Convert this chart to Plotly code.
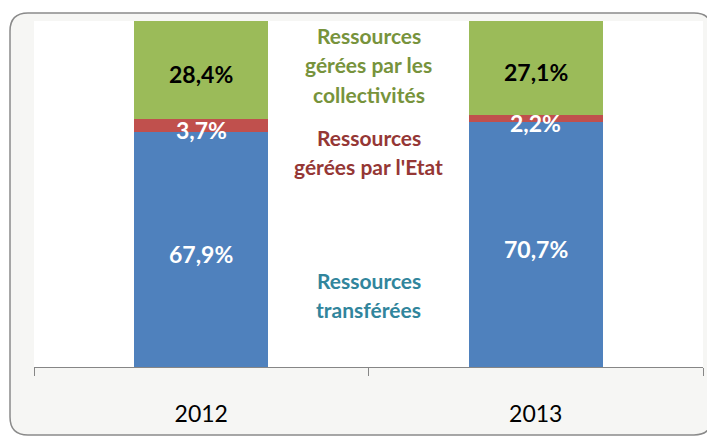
import plotly.graph_objects as go

years = ["2012", "2013"]
series_names = ["Ressources transférées", "Ressources gérées par l'Etat", "Ressources gérées par les collectivités"]
transferees = [67.9, 70.7]
etat = [3.7, 2.2]
collectivites = [28.4, 27.1]

bar_colors = ["#4F81BD", "#C0504D", "#9BBB59"]
label_colors = ["#FFFFFF", "#FFFFFF", "#000000"]
name_colors = ["#31859C", "#953735", "#77933C"]
name_lines = [["Ressources", "transférées"],
              ["Ressources", "gérées par l'Etat"],
              ["Ressources", "gérées par les", "collectivités"]]

W, H = 715, 437
OFF = 8  # page body margin
ML, MT = 34 - OFF, 21 - OFF
PW, PH = 669, 346
MR, MB = W - ML - PW, H - MT - PH

def px(x):
    return (x - OFF - ML) / PW

def py(y):
    return (H - MB - (y - OFF)) / PH

FONT = "Lato"
fig = go.Figure()
all_series = [transferees, etat, collectivites]
for name, vals, col in zip(series_names, all_series, bar_colors):
    fig.add_trace(go.Bar(x=years, y=vals, name=name, marker=dict(color=col, line=dict(width=0)),
                         width=0.4, hoverinfo="skip"))

annotations = []
for i, yr in enumerate(years):
    base = 0
    for vals, lc in zip(all_series, label_colors):
        v = vals[i]
        annotations.append(dict(x=i, y=base + v / 2, xref="x", yref="y",
                                text=f"{v:.1f}%".replace(".", ","), showarrow=False,
                                yshift=-4,
                                font=dict(family=FONT, size=23, color=lc, weight="bold")))
        base += v

name_top = [280, 137, 35]
for lines, c, y0 in zip(name_lines, name_colors, name_top):
    for k, line in enumerate(lines):
        annotations.append(dict(x=0.5, y=py(y0 + 29.5 * k), xref="paper", yref="paper", text=line,
                                showarrow=False, xanchor="center", yanchor="middle",
                                font=dict(family=FONT, size=21, color=c, weight="bold")))

# rounded frame path
l, t, r, b, rad = 10, 13, 712, 435, 18
def P(x, y):
    return f"{px(x):.5f},{py(y):.5f}"
path = (f"M {P(l+rad, t)} L {P(r-rad, t)} Q {P(r, t)} {P(r, t+rad)} "
        f"L {P(r, b-rad)} Q {P(r, b)} {P(r-rad, b)} L {P(l+rad, b)} "
        f"Q {P(l, b)} {P(l, b-rad)} L {P(l, t+rad)} Q {P(l, t)} {P(l+rad, t)} Z")
shapes = [
    dict(type="path", path=path, xref="paper", yref="paper", layer="below",
         fillcolor="#F6F6F4", line=dict(color="#8A8A8A", width=1.5)),
    dict(type="rect", xref="paper", yref="paper", x0=0, x1=1, y0=0, y1=1, layer="below",
         fillcolor="#FFFFFF", line=dict(width=0)),
]

fig.update_layout(
    width=W, height=H,
    margin=dict(l=ML, r=MR, t=MT, b=MB, pad=0, autoexpand=False),
    barmode="stack", bargap=0.6,
    showlegend=False,
    paper_bgcolor="#FFFFFF", plot_bgcolor="rgba(0,0,0,0)",
    annotations=annotations, shapes=shapes,
    xaxis=dict(type="category", categoryorder="array", categoryarray=years,
               range=[-0.5, 1.5], autorange=False, automargin=False,
               showline=True, linecolor="#868686", linewidth=1.2,
               ticks="outside", tickson="boundaries", ticklen=8, tickcolor="#868686",
               tickwidth=1.2, ticklabelstandoff=26, tickangle=0,
               tickfont=dict(family=FONT, size=23, color="#000000"), showgrid=False,
               fixedrange=True),
    yaxis=dict(range=[0, 100], visible=False, fixedrange=True, automargin=False),
)

fig.write_html("out.html")
